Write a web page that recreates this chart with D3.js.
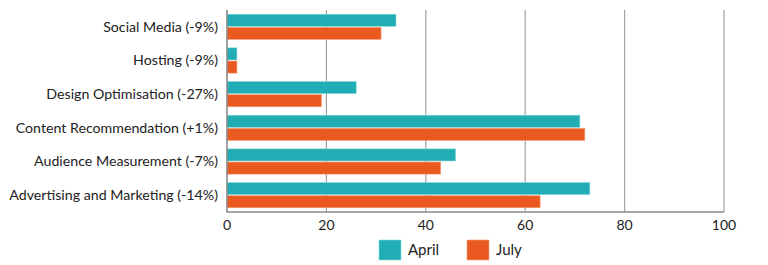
<!DOCTYPE html>
<html lang="en">
  <head>
    <meta charset="utf-8">
    <title>April vs July by category</title>
    <style>
      body { margin: 0; background: #fff; }
      text { font-family: Lato, "Noto Sans", sans-serif; fill: #222; }
    </style>
  </head>
  <body>
    <div id="viz"></div>
    <script src="https://cdn.jsdelivr.net/npm/d3@7/dist/d3.min.js"></script>
    <script>
      const categories = [
        'Social Media (-9%)',
        'Hosting (-9%)',
        'Design Optimisation (-27%)',
        'Content Recommendation (+1%)',
        'Audience Measurement (-7%)',
        'Advertising and Marketing (-14%)'
      ]
      const april = [34, 2, 26, 71, 46, 73]
      const july = [31, 2, 19, 72, 43, 63]
      const seriesNames = ['April', 'July']
      const xTicks = [0, 20, 40, 60, 80, 100]

      const width = 768
      const height = 265
      const margin = { top: 10, right: 44, bottom: 53, left: 227 }
      const colors = { April: '#20aeb4', July: '#ea5a20' }
      const strokes = { April: '#8ad6d9', July: '#f5a27f' }

      const svg = d3.select('#viz').append('svg')
        .attr('width', width)
        .attr('height', height)

      const x = d3.scaleLinear()
        .domain([0, 100])
        .range([margin.left, width - margin.right])

      const y = d3.scaleBand()
        .domain(categories)
        .range([margin.top, height - margin.bottom])
        .paddingInner(0.25)
        .paddingOuter(0.125)

      const ySub = d3.scaleBand()
        .domain(seriesNames)
        .range([0, y.bandwidth()])
        .paddingInner(0.08)

      // grid lines
      svg.append('g')
        .selectAll('line')
        .data(xTicks.slice(1))
        .join('line')
          .attr('x1', d => x(d))
          .attr('x2', d => x(d))
          .attr('y1', margin.top)
          .attr('y2', height - margin.bottom)
          .attr('stroke', '#a3a3a3')
          .attr('stroke-width', 1.2)

      const rows = categories.map((c, i) => ({ c, April: april[i], July: july[i] }))

      svg.append('g')
        .selectAll('g')
        .data(rows)
        .join('g')
          .attr('transform', d => `translate(0,${y(d.c)})`)
        .selectAll('rect')
        .data(d => seriesNames.map(s => ({ s, v: d[s] })))
        .join('rect')
          .attr('x', x(0))
          .attr('y', d => ySub(d.s))
          .attr('width', d => x(d.v) - x(0))
          .attr('height', ySub.bandwidth())
          .attr('fill', d => colors[d.s])
          .attr('stroke', d => strokes[d.s])
          .attr('stroke-width', 0.6)

      // category labels
      svg.append('g')
        .selectAll('text')
        .data(categories)
        .join('text')
          .attr('x', margin.left - 9)
          .attr('y', d => y(d) + y.bandwidth() / 2)
          .attr('dy', '0.35em')
          .attr('text-anchor', 'end')
          .attr('font-size', 14.2)
          .text(d => d)

      // axis lines (left and bottom)
      svg.append('path')
        .attr('d', `M${x(0)},${margin.top} V${height - margin.bottom} H${x(100)}`)
        .attr('fill', 'none')
        .attr('stroke', '#8a8a8a')
        .attr('stroke-width', 1.6)

      // x tick labels
      svg.append('g')
        .selectAll('text')
        .data(xTicks)
        .join('text')
          .attr('x', d => x(d))
          .attr('y', height - margin.bottom + 13)
          .attr('dy', '0.35em')
          .attr('text-anchor', 'middle')
          .attr('font-size', 14)
          .text(d => d)

      // legend
      const legendX = [379, 467]
      const legend = svg.append('g')
        .selectAll('g')
        .data(seriesNames)
        .join('g')
          .attr('transform', (d, i) => `translate(${legendX[i]},240)`)
      legend.append('rect')
        .attr('width', 22)
        .attr('height', 20)
        .attr('fill', d => colors[d])
        .attr('stroke', d => strokes[d])
        .attr('stroke-width', 0.6)
      legend.append('text')
        .attr('x', 29)
        .attr('y', 10)
        .attr('dy', '0.35em')
        .attr('font-size', 15)
        .text(d => d)
    </script>
  </body>
</html>
